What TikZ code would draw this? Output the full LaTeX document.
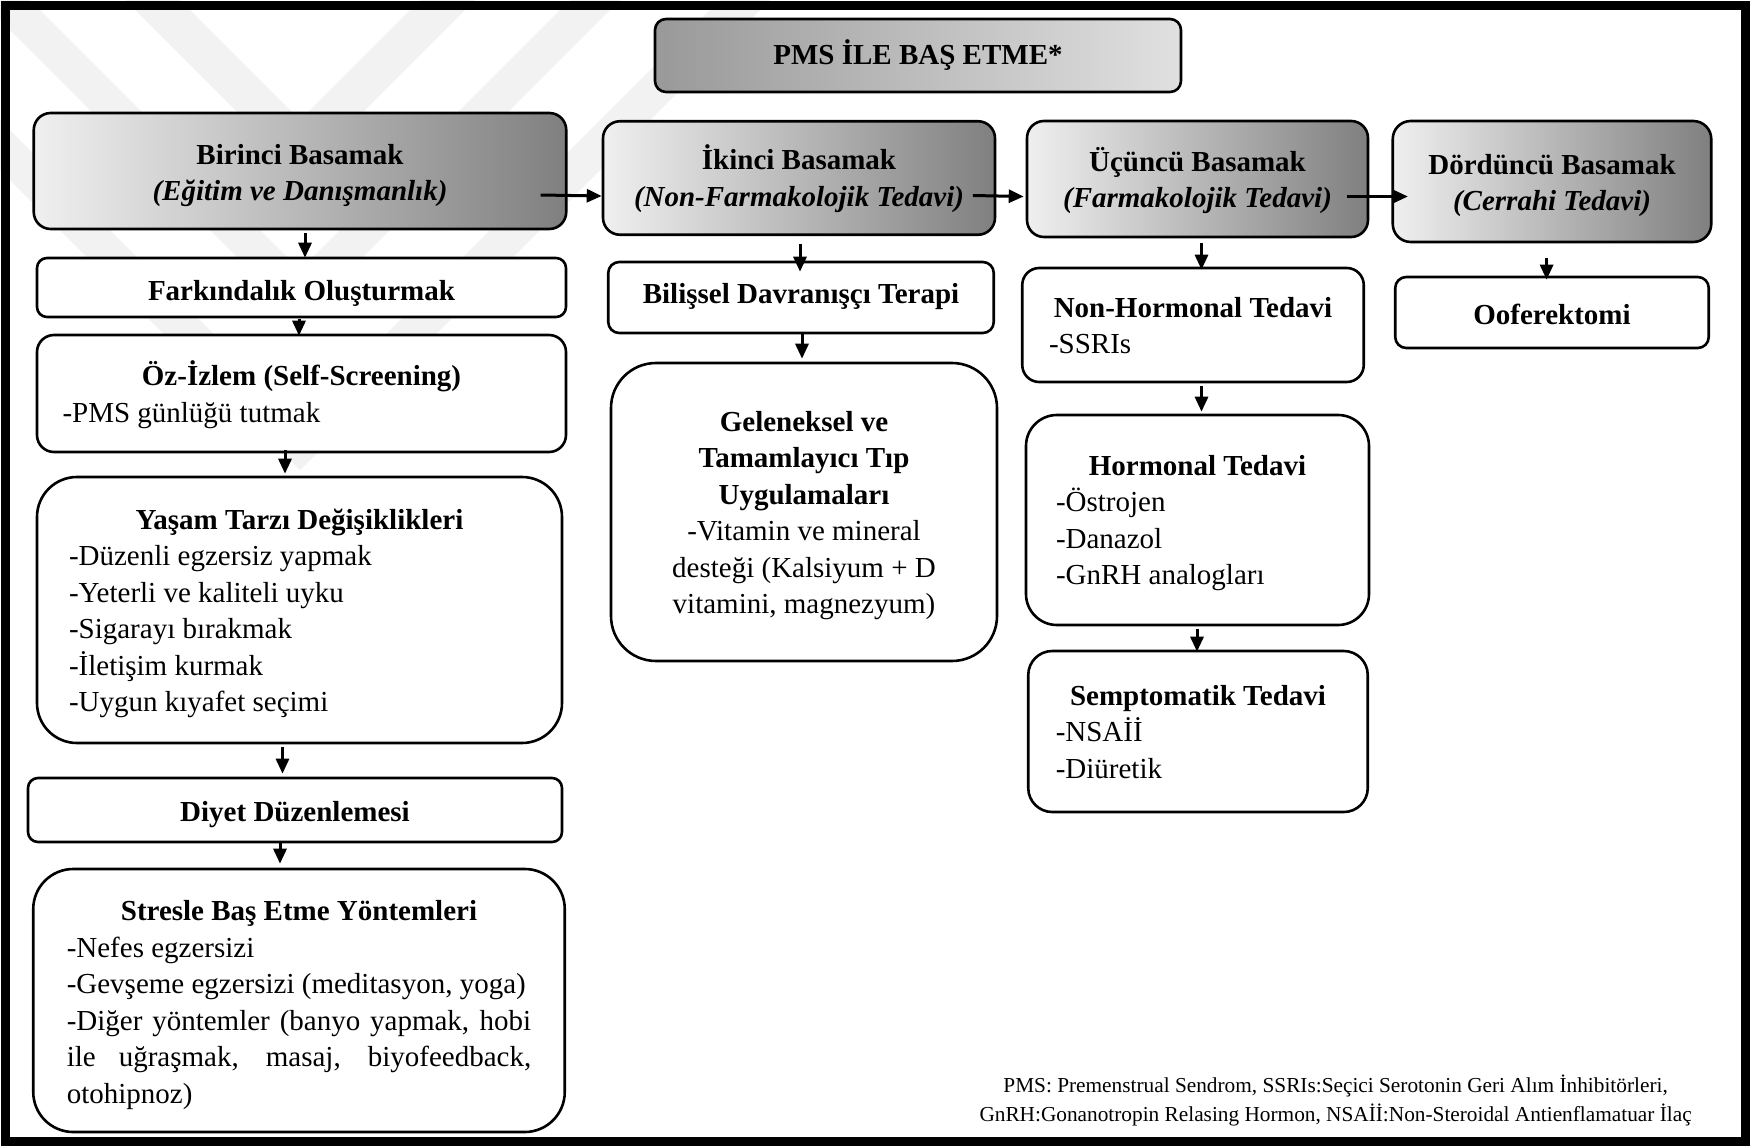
\documentclass[tikz,border=0pt]{standalone}
\usepackage{fontspec}
\setmainfont{Liberation Serif}
\usetikzlibrary{arrows.meta,calc}
\newcommand{\dnx}[2]{\raisebox{-#1pt}[\height][\depth]{#2}}
\tikzset{
  every node/.style={font=\fontsize{29}{36.5}\selectfont},
  bx/.style={draw, line width=2.6pt, inner sep=0pt, fill=white},
  graybox/.style={draw, line width=2.6pt, inner sep=0pt,
    left color=black!6, right color=black!50, font=\fontsize{29}{36.5}\selectfont\bfseries},
  titlebox/.style={draw, line width=2.6pt, inner sep=0pt,
    left color=black!40, right color=black!12, font=\fontsize{29}{36.5}\selectfont\bfseries},
  arr/.style={line width=3pt, -{Triangle[length=15pt,width=13pt]}},
  wm/.style={fill=black!5, draw=none}
}
\begin{document}
\begin{tikzpicture}[x=1pt,y=-1pt]
\useasboundingbox (0,0) rectangle (1751,1146);
\fill[white] (0,0) rectangle (1751,1146);

% faint watermark chevrons
\begin{scope}
\clip (0,0) rectangle (1751,1146);
\fill[wm] (125,0) -- (180,0) -- (300,120) -- (420,0) -- (475,0) -- (300,175) -- cycle;
\fill[wm] (-20,0) -- (30,0) -- (300,270) -- (570,0) -- (620,0) -- (300,320) -- cycle;
\fill[wm] (-170,0) -- (-120,0) -- (300,420) -- (720,0) -- (770,0) -- (300,470) -- cycle;
\end{scope}

% title
\node[titlebox, rounded corners=11pt, minimum width=526pt, minimum height=73pt] (title) at (918,55.5) {PMS İLE BAŞ ETME*};

% step boxes
\node[graybox, rounded corners=17pt, minimum width=532.5pt, minimum height=116pt] (b1) at (300,171)
  {\dnx{4.5}{\parbox{500pt}{\centering Birinci Basamak\\\textit{(Eğitim ve Danışmanlık)}}}};
\node[graybox, rounded corners=17pt, minimum width=392pt, minimum height=113.5pt] (b2) at (799,178)
  {\dnx{0.5}{\parbox{380pt}{\centering İkinci Basamak\\\textit{(Non-Farmakolojik Tedavi)}}}};
\node[graybox, rounded corners=17pt, minimum width=341pt, minimum height=116pt] (b3) at (1197.5,179)
  {\dnx{1.5}{\parbox{330pt}{\centering Üçüncü Basamak\\\textit{(Farmakolojik Tedavi)}}}};
\node[graybox, rounded corners=18pt, minimum width=318.5pt, minimum height=121pt] (b4) at (1552,181.5)
  {\dnx{4}{\parbox{310pt}{\centering Dördüncü Basamak\\\textit{(Cerrahi Tedavi)}}}};

% left column
\node[bx, rounded corners=10pt, minimum width=529pt, minimum height=59pt] (fark) at (301.5,287.5)
  {\dnx{5.5}{\textbf{Farkındalık Oluşturmak}}};
\node[bx, rounded corners=17pt, minimum width=529pt, minimum height=117pt] (oz) at (301.5,393.5)
  {\dnx{1}{\parbox{478pt}{\centering\textbf{Öz-İzlem (Self-Screening)}\par\raggedright -PMS günlüğü tutmak}}};
\node[bx, rounded corners=40pt, minimum width=525pt, minimum height=266pt] (yasam) at (299.5,610)
  {\dnx{3.5}{\parbox{461pt}{\centering\textbf{Yaşam Tarzı Değişiklikleri}\par\raggedright
   -Düzenli egzersiz yapmak\\-Yeterli ve kaliteli uyku\\-Sigarayı bırakmak\\-İletişim kurmak\\-Uygun kıyafet seçimi}}};
\node[bx, rounded corners=10pt, minimum width=534pt, minimum height=64pt] (diyet) at (295,810)
  {\dnx{4.5}{\textbf{Diyet Düzenlemesi}}};
\node[bx, rounded corners=40pt, minimum width=531.5pt, minimum height=263pt] (stres) at (299,1000.5)
  {\dnx{4.5}{\parbox{464.5pt}{\centering\textbf{Stresle Baş Etme Yöntemleri}\par\raggedright
   -Nefes egzersizi\\-Gevşeme egzersizi (meditasyon, yoga)\\
   \makebox[\linewidth][s]{-Diğer yöntemler (banyo yapmak, hobi}\\
   \makebox[\linewidth][s]{ile uğraşmak, masaj, biyofeedback,}\\otohipnoz)}}};

% middle column
\node[bx, rounded corners=11pt, minimum width=385.5pt, minimum height=71pt] (bilis) at (801,297.5)
  {\dnx{-1}{\textbf{Bilişsel Davranışçı Terapi}}};
\node[bx, rounded corners=45pt, minimum width=386pt, minimum height=298pt] (gelen) at (804,512)
  {\dnx{3.5}{\parbox{370pt}{\centering\textbf{Geleneksel ve}\\\textbf{Tamamlayıcı Tıp}\\\textbf{Uygulamaları}\\-Vitamin ve mineral\\desteği (Kalsiyum + D\\vitamini, magnezyum)}}};

% third column
\node[bx, rounded corners=17pt, minimum width=341.5pt, minimum height=114pt] (nonh) at (1193,325)
  {\dnx{0.5}{\parbox{288pt}{\centering\textbf{Non-Hormonal Tedavi}\par\raggedright -SSRIs}}};
\node[bx, rounded corners=31pt, minimum width=343pt, minimum height=210pt] (horm) at (1197.5,520)
  {\dnx{3}{\parbox{283pt}{\centering\textbf{Hormonal Tedavi}\par\raggedright -Östrojen\\-Danazol\\-GnRH analogları}}};
\node[bx, rounded corners=24pt, minimum width=339.5pt, minimum height=161pt] (sempt) at (1198,731.5)
  {\dnx{0.5}{\parbox{284.5pt}{\centering\textbf{Semptomatik Tedavi}\par\raggedright -NSAİİ\\-Diüretik}}};

% fourth column
\node[bx, rounded corners=11pt, minimum width=313.5pt, minimum height=71pt] (oofer) at (1552,312.5)
  {\dnx{2}{\textbf{Ooferektomi}}};

% footnote
\node[align=center, font=\fontsize{21.3}{29}\selectfont] (note) at (1335.6,1100)
  {PMS: Premenstrual Sendrom, SSRIs:Seçici Serotonin Geri Alım İnhibitörleri,\\
   GnRH:Gonanotropin Relasing Hormon, NSAİİ:Non-Steroidal Antienflamatuar İlaç};

% horizontal arrows
\draw[arr] ([shift={(-27,24)}]b1.east) -- ([shift={(0,18)}]b2.west);
\draw[arr] ([shift={(-23.5,17.5)}]b2.east) -- ([shift={(-2,17.5)}]b3.west);
\draw[arr] ([shift={(-22.4,17.5)}]b3.east) -- ([shift={(16.5,15)}]b4.west);

% vertical arrows
\draw[arr] ([shift={(5,3)}]b1.south) -- ([shift={(3.5,1)}]fark.north);
\draw[arr] ([shift={(-2.5,1)}]fark.south) -- ([shift={(-2.5,2)}]oz.north);
\draw[arr] ([shift={(-16.5,-3)}]oz.south) -- ([shift={(-14.5,-2)}]yasam.north);
\draw[arr] ([shift={(-17,3)}]yasam.south) -- ([shift={(-12.5,-3)}]diyet.north);
\draw[arr] ([shift={(-15,-2)}]diyet.south) -- ([shift={(-19,-4)}]stres.north);
\draw[arr] ([shift={(1,7.5)}]b2.south) -- ([shift={(-1,11)}]bilis.north);
\draw[arr] ([shift={(1,-1)}]bilis.south) -- ([shift={(-2,-3)}]gelen.north);
\draw[arr] ([shift={(4,5)}]b3.south) -- ([shift={(8.5,3)}]nonh.north);
\draw[arr] ([shift={(8.5,3)}]nonh.south) -- ([shift={(4,-2)}]horm.north);
\draw[arr] ([shift={(-0.5,3)}]horm.south) -- ([shift={(-1,2)}]sempt.north);
\draw[arr] ([shift={(-5.4,15)}]b4.south) -- ([shift={(-5.4,4)}]oofer.north);

% outer frame
\draw[line width=9pt] (5.5,5) rectangle (1745.5,1141);
\end{tikzpicture}
\end{document}
